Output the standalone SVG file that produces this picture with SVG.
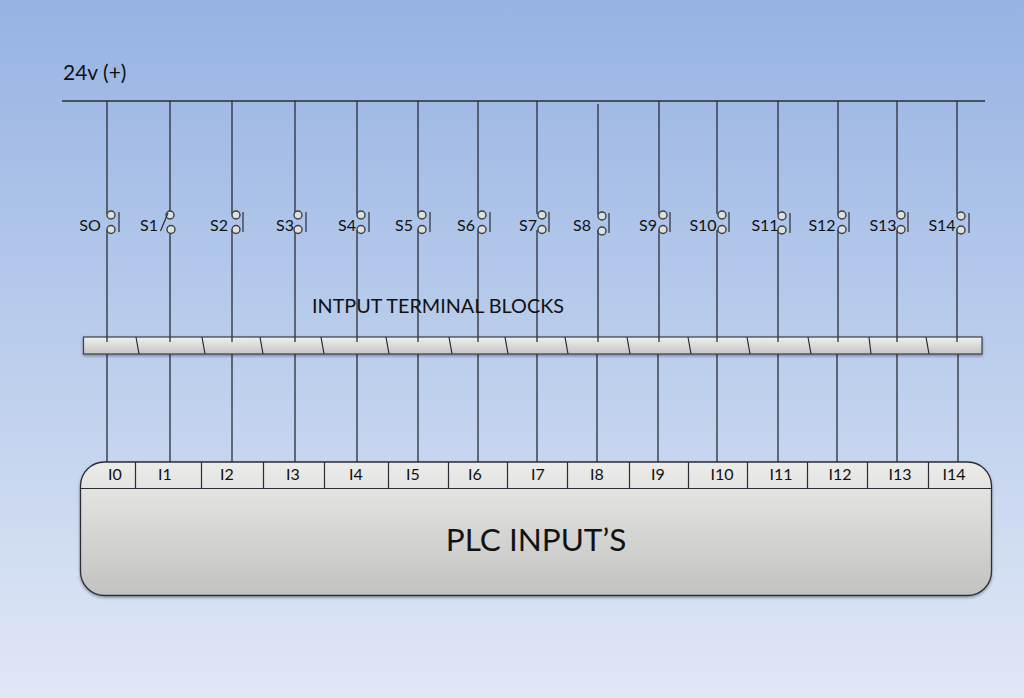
<svg xmlns="http://www.w3.org/2000/svg" width="1024" height="698" viewBox="0 0 1024 698">
<style>
text{font-family:Lato,"Open Sans","Liberation Sans",sans-serif;fill:#111}
.w{stroke:#2a2e36;stroke-width:1.3;fill:none}
.c{fill:#dfe0dc;stroke:#3a4048;stroke-width:1.4}
.b{stroke:#2a2e36;stroke-width:1.2;fill:none}
.s{font-size:16px;text-anchor:middle}
.i{font-size:16px;text-anchor:middle}
.d{stroke:#2a2e36;stroke-width:1.2;fill:none}
</style>
<defs>
<linearGradient id="bg" x1="0" y1="0" x2="0" y2="1"><stop offset="0" stop-color="#96b3e3"/><stop offset="1" stop-color="#e0e8f6"/></linearGradient>
<linearGradient id="tb" x1="0" y1="0" x2="0" y2="1"><stop offset="0" stop-color="#f0f0ee"/><stop offset="1" stop-color="#c4c4c2"/></linearGradient>
<linearGradient id="plc" x1="0" y1="0" x2="0" y2="1"><stop offset="0" stop-color="#ececea"/><stop offset="0.2" stop-color="#e3e3e1"/><stop offset="1" stop-color="#c2c2c0"/></linearGradient>
<filter id="sh" x="-5%" y="-20%" width="110%" height="140%"><feDropShadow dx="0" dy="1.5" stdDeviation="1.5" flood-color="#000" flood-opacity="0.35"/></filter>
</defs>
<rect width="1024" height="698" fill="url(#bg)"/>
<g id="rail"><text x="63" y="80" font-size="21">24v (+)</text></g>
<g id="connectors">
<path class="w" d="M62 101H985"/>
<path class="w" d="M107 101V214M107 230V342M107 354V462"/>
<path class="w" d="M170 101V214M170 230V342M170 354V462"/>
<path class="w" d="M232 101V214M232 230V342M232 354V462"/>
<path class="w" d="M295 101V214M295 230V342M295 354V462"/>
<path class="w" d="M357 101V214M357 230V342M357 354V462"/>
<path class="w" d="M418 101V214M418 230V342M418 354V462"/>
<path class="w" d="M478 101V214M478 230V342M478 354V462"/>
<path class="w" d="M537 101V214M537 230V342M537 354V462"/>
<path class="w" d="M598 104V214M598 230V342M597 354V462"/>
<path class="w" d="M659 101V214M659 230V342M658 354V462"/>
<path class="w" d="M717 101V214M717 230V342M717 354V462"/>
<path class="w" d="M778 101V214M778 230V342M778 354V462"/>
<path class="w" d="M838 101V214M838 230V342M837 354V462"/>
<path class="w" d="M897 101V214M897 230V342M897 354V462"/>
<path class="w" d="M957 101V214M957 230V342M958 354V462"/>
</g>
<g id="s0"><circle class="c" cx="111" cy="215" r="4"/><circle class="c" cx="111" cy="229.500" r="4"/><path class="b" d="M119 212V232"/><text class="s" x="90" y="231">SO</text></g>
<g id="s1"><circle class="c" cx="170" cy="215" r="4"/><circle class="c" cx="171" cy="229.500" r="4"/><path class="b" d="M160.500 231L168 213"/><text class="s" x="149" y="231">S1</text></g>
<g id="s2"><circle class="c" cx="236" cy="215" r="4"/><circle class="c" cx="236" cy="229.500" r="4"/><path class="b" d="M243 212V232"/><text class="s" x="219" y="231">S2</text></g>
<g id="s3"><circle class="c" cx="298" cy="215" r="4"/><circle class="c" cx="298" cy="229.500" r="4"/><path class="b" d="M306 212V232"/><text class="s" x="285" y="231">S3</text></g>
<g id="s4"><circle class="c" cx="361" cy="215" r="4"/><circle class="c" cx="361" cy="229.500" r="4"/><path class="b" d="M369 212V232"/><text class="s" x="347" y="231">S4</text></g>
<g id="s5"><circle class="c" cx="422" cy="215" r="4"/><circle class="c" cx="422" cy="229.500" r="4"/><path class="b" d="M430 212V232"/><text class="s" x="404" y="231">S5</text></g>
<g id="s6"><circle class="c" cx="482" cy="215" r="4"/><circle class="c" cx="482" cy="229.500" r="4"/><path class="b" d="M490 212V232"/><text class="s" x="466" y="231">S6</text></g>
<g id="s7"><circle class="c" cx="542" cy="215" r="4"/><circle class="c" cx="542" cy="229.500" r="4"/><path class="b" d="M549 212V232"/><text class="s" x="528" y="231">S7</text></g>
<g id="s8"><circle class="c" cx="602" cy="216" r="4"/><circle class="c" cx="602" cy="231" r="4"/><path class="b" d="M609 213V233"/><text class="s" x="582" y="231">S8</text></g>
<g id="s9"><circle class="c" cx="663" cy="215" r="4"/><circle class="c" cx="663" cy="229.500" r="4"/><path class="b" d="M670 212V232"/><text class="s" x="648" y="231">S9</text></g>
<g id="s10"><circle class="c" cx="722" cy="215" r="4"/><circle class="c" cx="722" cy="229.500" r="4"/><path class="b" d="M729 212V232"/><text class="s" x="703" y="231">S10</text></g>
<g id="s11"><circle class="c" cx="782" cy="216" r="4"/><circle class="c" cx="782" cy="230" r="4"/><path class="b" d="M790 213V233"/><text class="s" x="765" y="231">S11</text></g>
<g id="s12"><circle class="c" cx="842" cy="215" r="4"/><circle class="c" cx="842" cy="229.500" r="4"/><path class="b" d="M849 212V232"/><text class="s" x="822" y="231">S12</text></g>
<g id="s13"><circle class="c" cx="901" cy="215" r="4"/><circle class="c" cx="901" cy="229.500" r="4"/><path class="b" d="M908 212V232"/><text class="s" x="883" y="231">S13</text></g>
<g id="s14"><circle class="c" cx="961" cy="216" r="4"/><circle class="c" cx="961" cy="230" r="4"/><path class="b" d="M969 213V233"/><text class="s" x="942" y="231">S14</text></g>
<g id="terminal-blocks">
<rect x="83.500" y="337" width="898.500" height="17" fill="url(#tb)" stroke="#3a4048" stroke-width="1.200" filter="url(#sh)"/>
<path class="d" d="M136 337L139 354M202 337L205 354M260 337L263 354M321 337L324 354M386 337L389 354M449 337L452 354M505 337L508 354M565 337L568 354M627 337L630 354M688 337L691 354M747 337L750 354M808 337L811 354M869 337L871 354M926 337L929 354"/>
<path class="w" d="M107 337V342M170 337V342M232 337V342M295 337V342M357 337V342M418 337V342M478 337V342M537 337V342M598 337V342M659 337V342M717 337V342M778 337V342M838 337V342M897 337V342M957 337V342"/>
<text x="312" y="313" font-size="19.800">INTPUT TERMINAL BLOCKS</text>
</g>
<g id="plc-inputs">
<rect x="80.500" y="462" width="911" height="133.500" rx="24" ry="24" fill="url(#plc)" stroke="#2a2e36" stroke-width="1.300" filter="url(#sh)"/>
<path class="d" d="M81 488.500H991M135.500 462V488.500M201.500 462V488.500M263.500 462V488.500M324.500 462V488.500M388.500 462V488.500M448.500 462V488.500M507.500 462V488.500M567.500 462V488.500M629.500 462V488.500M688.500 462V488.500M747.500 462V488.500M807.500 462V488.500M867.500 462V488.500M928.500 462V488.500"/>
<text class="i" x="115" y="480">I0</text><text class="i" x="165" y="480">I1</text><text class="i" x="227" y="480">I2</text><text class="i" x="293" y="480">I3</text><text class="i" x="356" y="480">I4</text><text class="i" x="413" y="480">I5</text><text class="i" x="475" y="480">I6</text><text class="i" x="538" y="480">I7</text><text class="i" x="597" y="480">I8</text><text class="i" x="658" y="480">I9</text><text class="i" x="722" y="480">I10</text><text class="i" x="781" y="480">I11</text><text class="i" x="840" y="480">I12</text><text class="i" x="900" y="480">I13</text><text class="i" x="954" y="480">I14</text>
<text x="536" y="551" font-size="31.500" text-anchor="middle">PLC INPUT’S</text>
</g>
</svg>
